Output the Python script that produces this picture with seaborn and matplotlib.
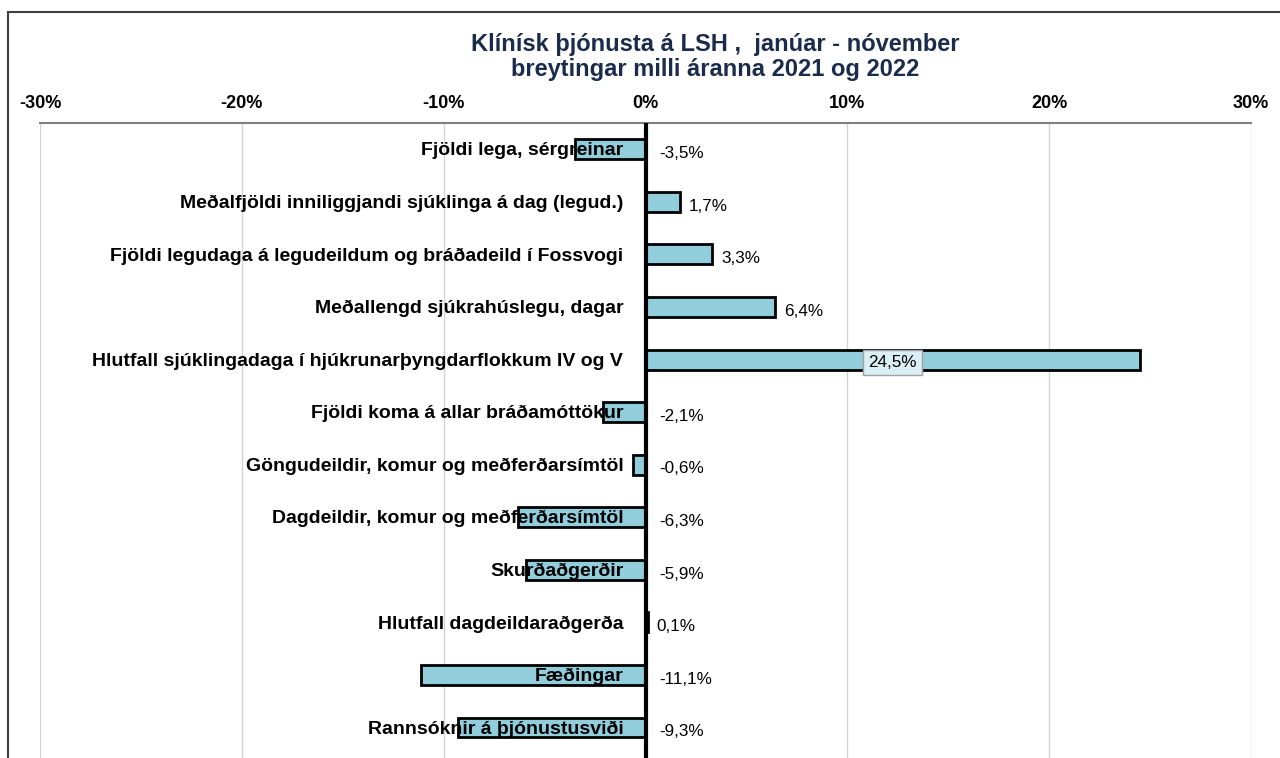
import matplotlib
matplotlib.use("Agg")
import matplotlib.pyplot as plt
import matplotlib.patches as patches
from matplotlib.ticker import FuncFormatter
import seaborn as sns
import pandas as pd

categories = [
    "Fjöldi lega, sérgreinar",
    "Meðalfjöldi inniliggjandi sjúklinga á dag (legud.)",
    "Fjöldi legudaga á legudeildum og bráðadeild í Fossvogi",
    "Meðallengd sjúkrahúslegu, dagar",
    "Hlutfall sjúklingadaga í hjúkrunarþyngdarflokkum IV og V",
    "Fjöldi koma á allar bráðamóttökur",
    "Göngudeildir, komur og meðferðarsímtöl",
    "Dagdeildir, komur og meðferðarsímtöl",
    "Skurðaðgerðir",
    "Hlutfall dagdeildaraðgerða",
    "Fæðingar",
    "Rannsóknir á þjónustusviði",
]
changes = [-3.5, 1.7, 3.3, 6.4, 24.5, -2.1, -0.6, -6.3, -5.9, 0.1, -11.1, -9.3]
x_ticks = [-30, -20, -10, 0, 10, 20, 30]

title_lines = "Klínísk þjónusta á LSH ,  janúar - nóvember\nbreytingar milli áranna 2021 og 2022"

sns.set_theme(style="white")
plt.rcParams['font.family'] = ['Liberation Sans', 'DejaVu Sans']

df = pd.DataFrame({'flokkur': categories, 'breyting': changes})

fig = plt.figure(figsize=(12.8, 7.58), dpi=100)
ax = fig.add_axes([40 / 1280, 0.0, (1251 - 40) / 1280, 1 - 123 / 758])

sns.barplot(data=df, x='breyting', y='flokkur', orient='h', color='#92CDDC',
            saturation=1, edgecolor='black', linewidth=2, width=0.38, ax=ax, zorder=2)

ax.set_xlim(-30, 30)
ax.set_ylim(11.58, -0.5)
ax.set_xticks(x_ticks)
ax.xaxis.set_major_formatter(FuncFormatter(lambda v, p: f"{int(v)}%"))
ax.xaxis.tick_top()
ax.tick_params(axis='x', length=0, pad=8, labelsize=13, labelcolor='black')
for lbl in ax.get_xticklabels():
    lbl.set_fontweight('bold')
ax.set_yticks([])
ax.set_xlabel('')
ax.set_ylabel('')
ax.grid(axis='x', color='#D4D4D4', linewidth=1, zorder=0)
ax.set_axisbelow(True)
for side in ['left', 'right', 'bottom']:
    ax.spines[side].set_visible(False)
ax.spines['top'].set_color('#7F7F7F')
ax.spines['top'].set_linewidth(1.5)

ax.axvline(0, color='black', linewidth=3, zorder=3)

for i, (name, v) in enumerate(zip(categories, changes)):
    ax.text(-1.1, i + 0.03, name, ha='right', va='center', fontsize=14,
            fontweight='bold', color='black', zorder=4)
    txt = f"{v:.1f}%".replace('.', ',')
    if v > 20:
        ax.text(v / 2, i + 0.05, txt, ha='center', va='center', fontsize=12.3,
                color='black', zorder=5,
                bbox=dict(boxstyle='square,pad=0.3', facecolor='#DAEEF3',
                          edgecolor='#A0A0A0', linewidth=1))
    elif v > 0:
        ax.text(v + 0.45, i + 0.08, txt, ha='left', va='center', fontsize=12.3,
                color='black', zorder=4)
    else:
        ax.text(0.7, i + 0.08, txt, ha='left', va='center', fontsize=12.3,
                color='black', zorder=4)

fig.text(0.559, 1 - 57 / 758, title_lines, ha='center', va='center', fontsize=17,
         fontweight='bold', color='#1B2B4B', linespacing=1.08)

border = patches.Rectangle((8 / 1280, -0.01), 1.1, 1 - 12 / 758 + 0.01,
                           transform=fig.transFigure, fill=False,
                           edgecolor='#404040', linewidth=1.5, zorder=10)
fig.patches.append(border)

fig.savefig('out.png', dpi=100)
